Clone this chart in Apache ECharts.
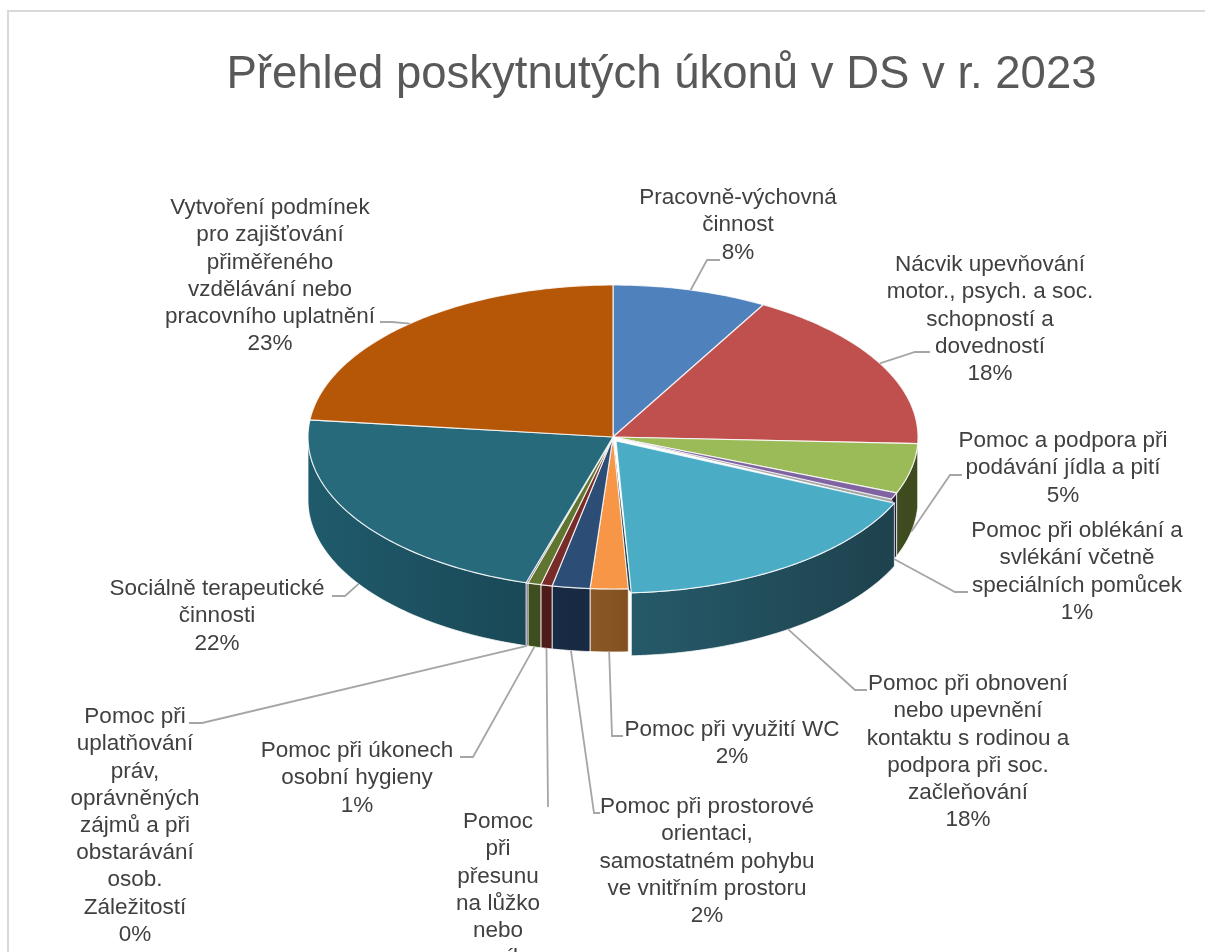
<!DOCTYPE html>
<html>
<head>
<meta charset="utf-8">
<style>html,body{margin:0;padding:0;background:#fff;overflow:hidden}#main{width:1205px;height:952px}</style>
<script src="https://cdn.jsdelivr.net/npm/echarts@6/dist/echarts.min.js"></script>
</head>
<body>
<div id="main"></div>
<script>
var titleText = 'Přehled poskytnutých úkonů v DS v r. 2023';

// categories with the line breaks of the original labels
var categories = [
  'Pracovně-výchovná\nčinnost',
  'Nácvik upevňování\nmotor., psych. a soc.\nschopností a\ndovedností',
  'Pomoc a podpora při\npodávání jídla a pití',
  'Pomoc při oblékání a\nsvlékání včetně\nspeciálních pomůcek',
  'Pomoc při obnovení\nnebo upevnění\nkontaktu s rodinou a\npodpora při soc.\nzačleňování',
  'Pomoc při využití WC',
  'Pomoc při prostorové\norientaci,\nsamostatném pohybu\nve vnitřním prostoru',
  'Pomoc\npři\npřesunu\nna lůžko\nnebo\nvozík',
  'Pomoc při úkonech\nosobní hygieny',
  'Pomoc při\nuplatňování\npráv,\noprávněných\nzájmů a při\nobstarávání\nosob.\nZáležitostí',
  'Sociálně terapeutické\nčinnosti',
  'Vytvoření podmínek\npro zajišťování\npřiměřeného\nvzdělávání nebo\npracovního uplatnění'
];
var values = [8.2, 17.5, 5.3, 0.7, 17.5, 2.0, 2.0, 0.6, 0.7, 0.1, 22.2, 23.2];

var topColors = ['#4f81bd', '#c0504d', '#9bbb59', '#8064a2', '#4bacc6', '#f79646', '#2c4d75', '#772c2a', '#5f7530', '#4d3b62', '#276a7c', '#b65708'];
var wallLeft = ['#2b4566', '#692c2a', '#3f4d20', '#2a1e3a', '#265a69', '#8c5727', '#182b45', '#4f1b1a', '#3f4e1f', '#2f2440', '#1f5b6c', '#6b3405'];
var wallRight = ['#2b4566', '#692c2a', '#3f4a1f', '#2a1e3a', '#1e424e', '#815021', '#182a42', '#4f1b1a', '#3f4e1f', '#2f2440', '#1a4856', '#6b3405'];

// the aqua slice sits slightly pulled out of the pie
var sliceShift = [[0, 0], [0, 0], [0, 0], [0, 0], [3, 4], [0, 0], [0, 0], [0, 0], [0, 0], [0, 0], [0, 0], [0, 0]];

// label centre x and first line centre y, placed by hand in the original
var labelPos = [[738, 197], [990, 264], [1063, 440], [1077, 530], [968, 683], [732, 729], [707, 806], [498, 821], [357, 750], [135, 716], [217, 588], [270, 207]];
// leader line points after the slice anchor
var leaderPts = [
  [[707, 260], [720, 260]],
  [[915, 352], [930, 352]],
  [[950, 475], [962, 475]],
  [[955, 592], [968, 592]],
  [[855, 690], [867, 690]],
  [[612, 736], [623, 736]],
  [[594, 813], [600, 813]],
  [[548, 807]],
  [[473, 757], [460, 757]],
  [[202, 723], [189, 723]],
  [[345, 596], [332, 596]],
  [[392, 322], [380, 322]]
];

var cx = 613, cy = 437, rx = 305, ry = 152, depth = 63;

var total = 0;
var starts = [];
for (var i = 0; i < values.length; ++i) {
  starts.push(total);
  total += values[i];
}

function toAngle(v) {
  return v / total * Math.PI * 2;
}
function rimPoint(a, dz, shift) {
  return [cx + rx * Math.sin(a) + shift[0], cy - ry * Math.cos(a) + dz + shift[1]];
}
function arcPoints(a0, a1, dz, shift) {
  var pts = [];
  var n = Math.max(2, Math.ceil((a1 - a0) / 0.015));
  for (var k = 0; k <= n; ++k) {
    pts.push(rimPoint(a0 + (a1 - a0) * k / n, dz, shift));
  }
  return pts;
}

function renderWall(params) {
  var i = params.dataIndex;
  var shift = sliceShift[i];
  var a0 = Math.max(toAngle(starts[i]), Math.PI / 2);
  var a1 = Math.min(toAngle(starts[i] + values[i]), Math.PI * 1.5);
  var children = [];
  if (shift[0] || shift[1]) {
    // gaps left open on both sides of the pulled out slice
    children.push({
      type: 'polygon',
      shape: { points: [[cx, cy], rimPoint(a1, 0, shift), rimPoint(a1, 0, [0, 0])] },
      style: { fill: wallRight[i] }
    });
    children.push({
      type: 'polygon',
      shape: { points: [[cx, cy], rimPoint(a0, 0, shift), rimPoint(a0, 0, [0, 0])] },
      style: { fill: '#a6a6a6' }
    });
  }
  if (a1 > a0) {
    children.push({
      type: 'polygon',
      shape: { points: arcPoints(a0, a1, 0, shift).concat(arcPoints(a0, a1, depth, shift).reverse()) },
      style: {
        fill: new echarts.graphic.LinearGradient(0, 0, 1, 0, [
          { offset: 0, color: wallLeft[i] },
          { offset: 1, color: wallRight[i] }
        ]),
        stroke: 'rgba(255,255,255,0.75)',
        lineWidth: 1
      }
    });
  }
  return { type: 'group', children: children };
}

function renderTop(params) {
  var i = params.dataIndex;
  var shift = sliceShift[i];
  var a0 = toAngle(starts[i]);
  var a1 = toAngle(starts[i] + values[i]);
  return {
    type: 'polygon',
    shape: { points: [[cx + shift[0], cy + shift[1]]].concat(arcPoints(a0, a1, 0, shift)) },
    style: { fill: topColors[i], stroke: 'rgba(255,255,255,0.8)', lineWidth: 1.2 }
  };
}

function renderLabel(params) {
  var i = params.dataIndex;
  var mid = toAngle(starts[i] + values[i] / 2);
  var onFront = mid > Math.PI / 2 && mid < Math.PI * 1.5;
  var anchor = rimPoint(mid, onFront ? depth : 0, sliceShift[i]);
  var pct = Math.round(values[i] / total * 100) + '%';
  return {
    type: 'group',
    children: [
      {
        type: 'polyline',
        shape: { points: [anchor].concat(leaderPts[i]) },
        style: { fill: null, stroke: '#a6a6a6', lineWidth: 1.8 }
      },
      {
        type: 'text',
        style: {
          text: categories[i] + '\n' + pct,
          x: labelPos[i][0],
          y: labelPos[i][1] - 12.6,
          align: 'center',
          verticalAlign: 'top',
          font: '22.5px "Liberation Sans", sans-serif',
          lineHeight: 27.2,
          fill: '#404040'
        }
      }
    ]
  };
}

var chart = echarts.init(document.getElementById('main'), null, { renderer: 'canvas' });

var option = {
  animation: false,
  backgroundColor: '#fff',
  title: {
    text: titleText,
    left: 656.5,
    top: 47,
    textAlign: 'center',
    textStyle: { color: '#595959', fontSize: 45.5, fontWeight: 'normal', fontFamily: '"Liberation Sans", sans-serif' }
  },
  graphic: [
    {
      type: 'polyline',
      silent: true,
      shape: { points: [[1205, 11], [8, 11], [8, 952]] },
      style: { fill: null, stroke: '#d9d9d9', lineWidth: 2 }
    }
  ],
  series: [
    { type: 'custom', coordinateSystem: 'none', silent: true, renderItem: renderWall, data: values },
    { type: 'custom', coordinateSystem: 'none', silent: true, renderItem: renderTop, data: values },
    { type: 'custom', coordinateSystem: 'none', silent: true, renderItem: renderLabel, data: values }
  ]
};

option && chart.setOption(option);
window.addEventListener('resize', chart.resize);
</script>
</body>
</html>
